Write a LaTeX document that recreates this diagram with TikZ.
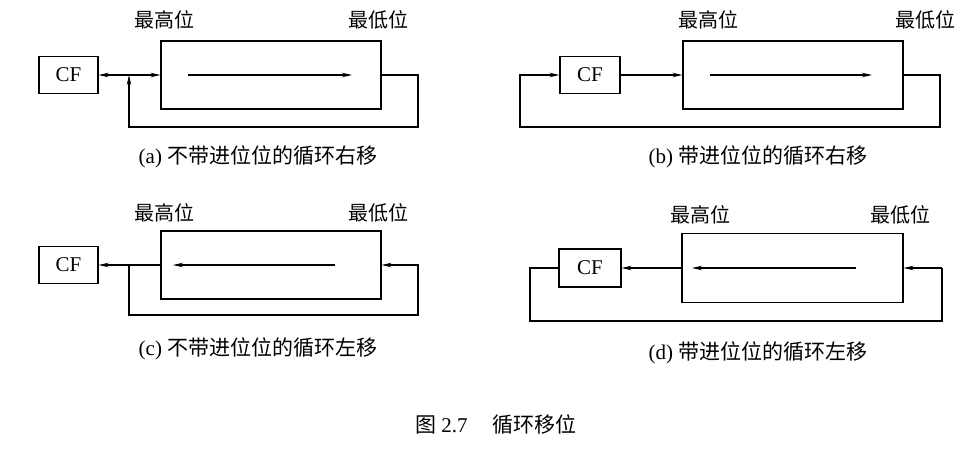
\documentclass[tikz,border=0pt]{standalone}
\usepackage{fontspec}
\setmainfont{Liberation Serif}
\newfontfamily\cjk{Noto Sans CJK SC}
\usetikzlibrary{arrows.meta}
\begin{document}
\begin{tikzpicture}[x=1pt,y=-1pt,
  ln/.style={line width=1.1pt},
  ar/.style={ln,-{Stealth[length=10pt,width=4.5pt]}},
  box/.style={draw,line width=1.1pt,inner sep=0pt,font=\fontsize{21}{21}\selectfont},
  lab/.style={font=\cjk\fontsize{20}{20}\selectfont},
  captxt/.style={font=\fontsize{21}{21}\selectfont}]
\useasboundingbox (0,0) rectangle (972,450);
% (a)
\node[box,minimum width=59,minimum height=37] (cfa) at (68.5,75) {CF};
\node[box,minimum width=220,minimum height=68] (ra) at (271,75) {};
\coordinate (a2) at (418,75); \coordinate (a3) at (418,127);
\coordinate (a4) at (129,127); \coordinate (a5) at (129,75);
\coordinate (ai1) at (188,75); \coordinate (ai2) at (352,75);
\draw[ar] (ai1) -- (ai2);
\draw[ln,{Stealth[length=10pt,width=4.5pt]}-{Stealth[length=10pt,width=4.5pt]}] (cfa.east) -- (ra.west);
\draw[ar] (ra.east) -- (a2) -- (a3) -- (a4) -- (a5);
\node[lab] (ha) at (164,20) {最高位};
\node[lab] (la) at (378,20) {最低位};
\node[captxt] (ca) at (258,157) {(a) {\cjk 不带进位位的循环右移}};
% (b)
\node[box,minimum width=60,minimum height=37] (cfb) at (590,75) {CF};
\node[box,minimum width=220,minimum height=68] (rb) at (793,75) {};
\coordinate (b2) at (940,75); \coordinate (b3) at (940,127);
\coordinate (b4) at (520,127); \coordinate (b5) at (520,75);
\coordinate (bi1) at (710,75); \coordinate (bi2) at (872,75);
\draw[ar] (bi1) -- (bi2);
\draw[ar] (cfb.east) -- (rb.west);
\draw[ar] (rb.east) -- (b2) -- (b3) -- (b4) -- (b5) -- (cfb.west);
\node[lab] (hb) at (708,20) {最高位};
\node[lab] (lb) at (925,20) {最低位};
\node[captxt] (cb) at (758,157) {(b) {\cjk 带进位位的循环右移}};
% (c)
\node[box,minimum width=59,minimum height=37] (cfc) at (68.5,265) {CF};
\node[box,minimum width=220,minimum height=68] (rc) at (271,265) {};
\coordinate (c1) at (129,265); \coordinate (c2) at (129,315); \coordinate (c3) at (418,315);
\coordinate (c4) at (418,265);
\coordinate (ci1) at (335,265); \coordinate (ci2) at (173,265);
\draw[ar] (ci1) -- (ci2);
\draw[ar] (rc.west) -- (cfc.east);
\draw[ar] (c1) -- (c2) -- (c3) -- (c4) -- (rc.east);
\node[lab] (hc) at (164,213) {最高位};
\node[lab] (lc) at (378,213) {最低位};
\node[captxt] (cc) at (258,349) {(c) {\cjk 不带进位位的循环左移}};
% (d)
\node[box,minimum width=62,minimum height=38] (cfd) at (590,268) {CF};
\node[box,minimum width=221,minimum height=69] (rd) at (792.5,268) {};
\coordinate (d2) at (530,268); \coordinate (d3) at (530,321);
\coordinate (d4) at (942,321); \coordinate (d5) at (942,268);
\coordinate (di1) at (856,268); \coordinate (di2) at (692,268);
\draw[ar] (di1) -- (di2);
\draw[ar] (rd.west) -- (cfd.east);
\draw[ln] (cfd.west) -- (d2) -- (d3) -- (d4) -- (d5);
\draw[ar] (d5) -- (rd.east);
\node[lab] (hd) at (700,215) {最高位};
\node[lab] (ld) at (900,215) {最低位};
\node[captxt] (cd) at (758,353) {(d) {\cjk 带进位位的循环左移}};
% title
\node[captxt] (t) at (496,425) {{\cjk 图} 2.7\hspace{1.2em}{\cjk 循环移位}};
\end{tikzpicture}
\end{document}
